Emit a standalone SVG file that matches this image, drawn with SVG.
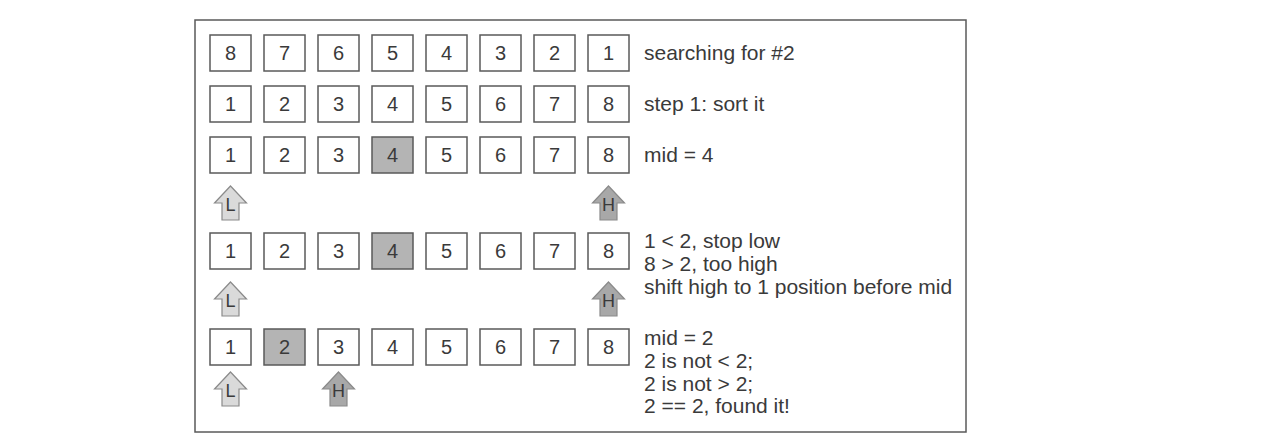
<svg xmlns="http://www.w3.org/2000/svg" width="1277" height="445" viewBox="0 0 1277 445">
<defs>
<style>
.frame{fill:#ffffff;stroke:#5a5a5a;stroke-width:1.5}
.box{fill:#ffffff;stroke:#5a5a5a;stroke-width:1.5}
.hl{fill:#b4b4b4;stroke:#5a5a5a;stroke-width:1.5}
.num{font-family:"Liberation Sans",Arial,sans-serif;font-size:20px;fill:#3a3a3a;text-anchor:middle}
.lbl{font-family:"Liberation Sans",Arial,sans-serif;font-size:21px;fill:#3a3a3a}
.arL{fill:#dadada;stroke:#8a8a8a;stroke-width:1.2}
.arH{fill:#a8a8a8;stroke:#8a8a8a;stroke-width:1.2}
.al{font-family:"Liberation Sans",Arial,sans-serif;font-size:18px;fill:#3a3a3a;text-anchor:middle}
</style>
<path id="arrow" d="M0,0 L16,17 L8.5,17 L8.5,34 L-8.5,34 L-8.5,17 L-16,17 Z"/>
</defs>
<rect width="1277" height="445" fill="#ffffff"/>
<rect class="frame" x="195" y="20" width="771" height="412"/>

<g id="row1">
<rect class="box" x="210" y="35" width="41" height="36"/><text class="num" x="230.5" y="60">8</text>
<rect class="box" x="264" y="35" width="41" height="36"/><text class="num" x="284.5" y="60">7</text>
<rect class="box" x="318" y="35" width="41" height="36"/><text class="num" x="338.5" y="60">6</text>
<rect class="box" x="372" y="35" width="41" height="36"/><text class="num" x="392.5" y="60">5</text>
<rect class="box" x="426" y="35" width="41" height="36"/><text class="num" x="446.5" y="60">4</text>
<rect class="box" x="480" y="35" width="41" height="36"/><text class="num" x="500.5" y="60">3</text>
<rect class="box" x="534" y="35" width="41" height="36"/><text class="num" x="554.5" y="60">2</text>
<rect class="box" x="588" y="35" width="41" height="36"/><text class="num" x="608.5" y="60">1</text>
<text class="lbl" x="644" y="60">searching for #2</text>
</g>

<g id="row2">
<rect class="box" x="210" y="86" width="41" height="36"/><text class="num" x="230.5" y="111">1</text>
<rect class="box" x="264" y="86" width="41" height="36"/><text class="num" x="284.5" y="111">2</text>
<rect class="box" x="318" y="86" width="41" height="36"/><text class="num" x="338.5" y="111">3</text>
<rect class="box" x="372" y="86" width="41" height="36"/><text class="num" x="392.5" y="111">4</text>
<rect class="box" x="426" y="86" width="41" height="36"/><text class="num" x="446.5" y="111">5</text>
<rect class="box" x="480" y="86" width="41" height="36"/><text class="num" x="500.5" y="111">6</text>
<rect class="box" x="534" y="86" width="41" height="36"/><text class="num" x="554.5" y="111">7</text>
<rect class="box" x="588" y="86" width="41" height="36"/><text class="num" x="608.5" y="111">8</text>
<text class="lbl" x="644" y="111">step 1: sort it</text>
</g>

<g id="row3">
<rect class="box" x="210" y="137" width="41" height="36"/><text class="num" x="230.5" y="162">1</text>
<rect class="box" x="264" y="137" width="41" height="36"/><text class="num" x="284.5" y="162">2</text>
<rect class="box" x="318" y="137" width="41" height="36"/><text class="num" x="338.5" y="162">3</text>
<rect class="hl" x="372" y="137" width="41" height="36"/><text class="num" x="392.5" y="162">4</text>
<rect class="box" x="426" y="137" width="41" height="36"/><text class="num" x="446.5" y="162">5</text>
<rect class="box" x="480" y="137" width="41" height="36"/><text class="num" x="500.5" y="162">6</text>
<rect class="box" x="534" y="137" width="41" height="36"/><text class="num" x="554.5" y="162">7</text>
<rect class="box" x="588" y="137" width="41" height="36"/><text class="num" x="608.5" y="162">8</text>
<text class="lbl" x="644" y="162">mid = 4</text>
</g>

<g id="pointers1">
<use href="#arrow" class="arL" x="230.5" y="186"/><text class="al" x="230.5" y="211">L</text>
<use href="#arrow" class="arH" x="608.5" y="186"/><text class="al" x="608.5" y="211">H</text>
</g>

<g id="row4">
<rect class="box" x="210" y="233" width="41" height="36"/><text class="num" x="230.5" y="258">1</text>
<rect class="box" x="264" y="233" width="41" height="36"/><text class="num" x="284.5" y="258">2</text>
<rect class="box" x="318" y="233" width="41" height="36"/><text class="num" x="338.5" y="258">3</text>
<rect class="hl" x="372" y="233" width="41" height="36"/><text class="num" x="392.5" y="258">4</text>
<rect class="box" x="426" y="233" width="41" height="36"/><text class="num" x="446.5" y="258">5</text>
<rect class="box" x="480" y="233" width="41" height="36"/><text class="num" x="500.5" y="258">6</text>
<rect class="box" x="534" y="233" width="41" height="36"/><text class="num" x="554.5" y="258">7</text>
<rect class="box" x="588" y="233" width="41" height="36"/><text class="num" x="608.5" y="258">8</text>
<text class="lbl" x="644" y="248">1 &lt; 2, stop low</text>
<text class="lbl" x="644" y="271">8 &gt; 2, too high</text>
<text class="lbl" x="644" y="294">shift high to 1 position before mid</text>
</g>

<g id="pointers2">
<use href="#arrow" class="arL" x="230.5" y="282"/><text class="al" x="230.5" y="307">L</text>
<use href="#arrow" class="arH" x="608.5" y="282"/><text class="al" x="608.5" y="307">H</text>
</g>

<g id="row5">
<rect class="box" x="210" y="329" width="41" height="36"/><text class="num" x="230.5" y="354">1</text>
<rect class="hl" x="264" y="329" width="41" height="36"/><text class="num" x="284.5" y="354">2</text>
<rect class="box" x="318" y="329" width="41" height="36"/><text class="num" x="338.5" y="354">3</text>
<rect class="box" x="372" y="329" width="41" height="36"/><text class="num" x="392.5" y="354">4</text>
<rect class="box" x="426" y="329" width="41" height="36"/><text class="num" x="446.5" y="354">5</text>
<rect class="box" x="480" y="329" width="41" height="36"/><text class="num" x="500.5" y="354">6</text>
<rect class="box" x="534" y="329" width="41" height="36"/><text class="num" x="554.5" y="354">7</text>
<rect class="box" x="588" y="329" width="41" height="36"/><text class="num" x="608.5" y="354">8</text>
<text class="lbl" x="644" y="345">mid = 2</text>
<text class="lbl" x="644" y="368">2 is not &lt; 2;</text>
<text class="lbl" x="644" y="391">2 is not &gt; 2;</text>
<text class="lbl" x="644" y="413">2 == 2, found it!</text>
</g>

<g id="pointers3">
<use href="#arrow" class="arL" x="230.5" y="372"/><text class="al" x="230.5" y="397">L</text>
<use href="#arrow" class="arH" x="338.5" y="372"/><text class="al" x="338.5" y="397">H</text>
</g>

<g id="connectors"></g>
</svg>
